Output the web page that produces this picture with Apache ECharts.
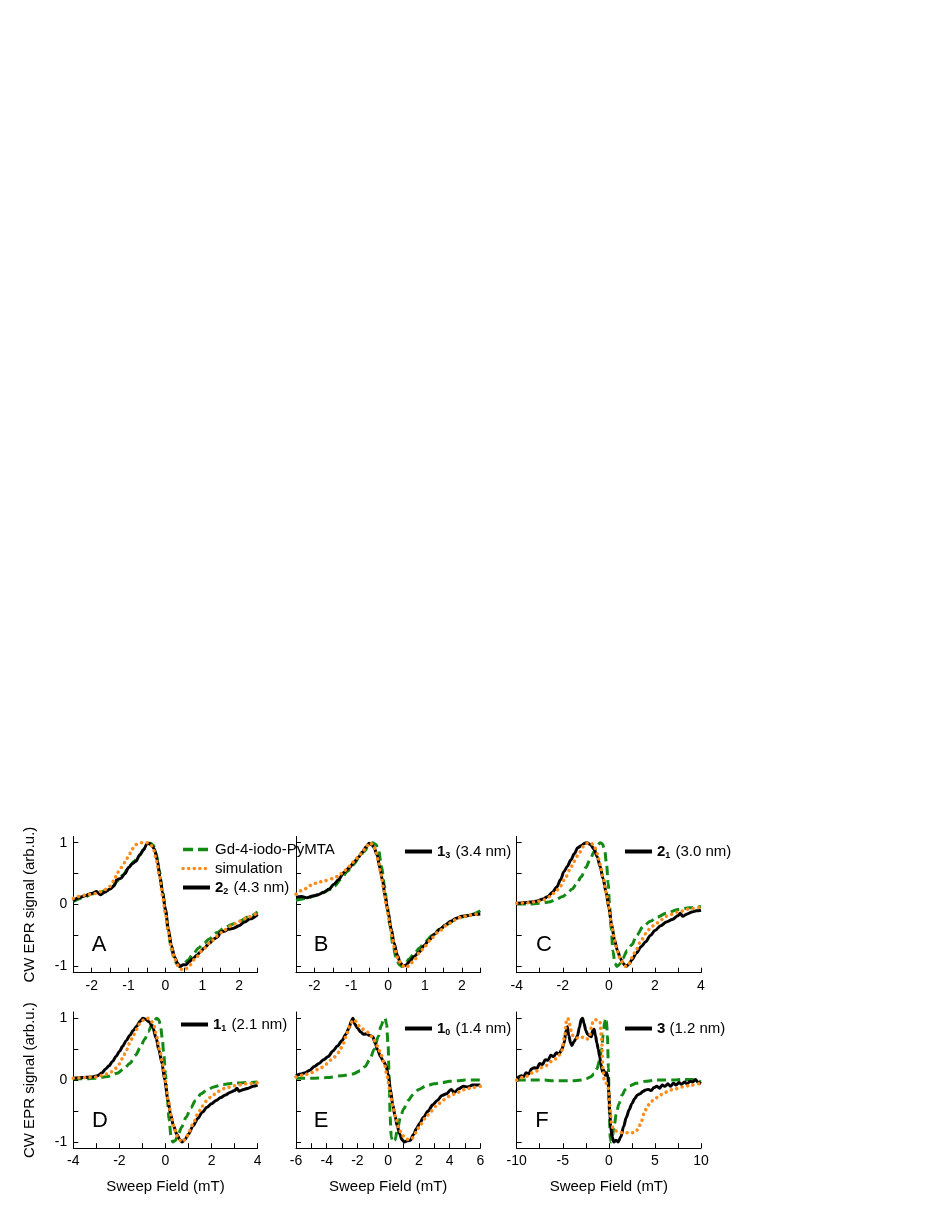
<!DOCTYPE html>
<html>
<head>
<meta charset="utf-8">
<script src="https://cdn.jsdelivr.net/npm/echarts@6/dist/echarts.min.js"></script>
<style>
html,body{margin:0;padding:0;background:#fff;}
#chart{width:932px;height:1206px;}
</style>
</head>
<body>
<div id="chart"></div>
<script>
// ---------------- data ----------------
const A_gd = [[-2.5,0.05],[-2.2,0.12],[-2.0,0.17],[-1.8,0.2],[-1.6,0.23],[-1.45,0.28],[-1.3,0.38],[-1.15,0.48],[-1.0,0.6],[-0.85,0.7],[-0.7,0.8],[-0.58,0.9],[-0.48,0.98],[-0.4,0.99],[-0.32,0.95],[-0.25,0.82],[-0.17,0.55],[-0.08,0.22],[0,-0.1],[0.08,-0.45],[0.16,-0.72],[0.25,-0.9],[0.33,-0.98],[0.4,-1.0],[0.5,-0.96],[0.6,-0.9],[0.75,-0.8],[0.9,-0.7],[1.05,-0.62],[1.2,-0.55],[1.4,-0.45],[1.6,-0.38],[1.8,-0.32],[2.0,-0.27],[2.25,-0.2],[2.5,-0.12]];
const A_sim = [[-2.5,0.1],[-2.2,0.15],[-1.9,0.18],[-1.7,0.22],[-1.55,0.27],[-1.4,0.38],[-1.3,0.52],[-1.2,0.6],[-1.1,0.68],[-1.0,0.78],[-0.9,0.9],[-0.8,0.97],[-0.7,1.0],[-0.6,1.0],[-0.5,1.0],[-0.4,0.97],[-0.32,0.88],[-0.24,0.7],[-0.16,0.45],[-0.08,0.15],[0,-0.15],[0.08,-0.45],[0.16,-0.7],[0.25,-0.88],[0.35,-0.99],[0.45,-1.05],[0.55,-1.04],[0.65,-0.98],[0.8,-0.88],[1.0,-0.74],[1.2,-0.62],[1.4,-0.51],[1.6,-0.41],[1.8,-0.34],[2.0,-0.27],[2.25,-0.2],[2.5,-0.13]];
const A_exp = [[-2.5,0.06],[-2.35,0.11],[-2.2,0.14],[-2.0,0.18],[-1.87,0.21],[-1.77,0.16],[-1.65,0.2],[-1.5,0.25],[-1.4,0.3],[-1.32,0.4],[-1.22,0.42],[-1.1,0.5],[-1.0,0.6],[-0.9,0.66],[-0.8,0.7],[-0.7,0.8],[-0.6,0.88],[-0.5,0.98],[-0.45,0.99],[-0.38,0.96],[-0.3,0.9],[-0.22,0.72],[-0.15,0.45],[-0.08,0.2],[0,-0.08],[0.08,-0.4],[0.16,-0.66],[0.25,-0.85],[0.33,-0.95],[0.4,-1.0],[0.48,-0.97],[0.56,-0.97],[0.65,-0.92],[0.75,-0.87],[0.85,-0.82],[0.95,-0.76],[1.05,-0.7],[1.2,-0.62],[1.32,-0.55],[1.42,-0.52],[1.5,-0.44],[1.6,-0.43],[1.7,-0.4],[1.85,-0.38],[2.0,-0.34],[2.15,-0.28],[2.3,-0.23],[2.5,-0.16]];

const B_gd = [[-2.5,0.07],[-2.2,0.1],[-2.0,0.14],[-1.8,0.18],[-1.6,0.24],[-1.45,0.3],[-1.3,0.4],[-1.1,0.54],[-0.95,0.64],[-0.8,0.75],[-0.65,0.86],[-0.52,0.96],[-0.42,1.0],[-0.33,0.97],[-0.26,0.88],[-0.18,0.62],[-0.1,0.3],[-0.03,0.0],[0.05,-0.35],[0.13,-0.65],[0.22,-0.87],[0.3,-0.97],[0.38,-1.0],[0.46,-0.97],[0.56,-0.88],[0.7,-0.8],[0.85,-0.7],[1.0,-0.6],[1.2,-0.5],[1.4,-0.4],[1.6,-0.32],[1.8,-0.25],[2.0,-0.2],[2.25,-0.16],[2.5,-0.1]];
const B_sim = [[-2.5,0.17],[-2.3,0.24],[-2.1,0.31],[-1.9,0.36],[-1.7,0.39],[-1.5,0.42],[-1.35,0.46],[-1.2,0.54],[-1.05,0.62],[-0.92,0.7],[-0.8,0.78],[-0.68,0.87],[-0.58,0.95],[-0.5,1.0],[-0.42,0.97],[-0.35,0.9],[-0.27,0.72],[-0.2,0.5],[-0.12,0.25],[-0.05,0.0],[0.03,-0.25],[0.1,-0.5],[0.18,-0.72],[0.27,-0.88],[0.37,-0.98],[0.48,-1.02],[0.58,-0.98],[0.7,-0.9],[0.85,-0.78],[1.0,-0.67],[1.2,-0.53],[1.4,-0.42],[1.6,-0.33],[1.8,-0.25],[2.0,-0.2],[2.2,-0.17],[2.5,-0.14]];
const B_exp = [[-2.5,0.12],[-2.35,0.13],[-2.2,0.11],[-2.05,0.14],[-1.9,0.16],[-1.75,0.2],[-1.6,0.25],[-1.47,0.33],[-1.35,0.4],[-1.2,0.52],[-1.05,0.6],[-0.92,0.69],[-0.8,0.77],[-0.7,0.85],[-0.6,0.93],[-0.52,0.99],[-0.45,0.97],[-0.38,0.92],[-0.3,0.8],[-0.22,0.58],[-0.15,0.38],[-0.08,0.12],[0,-0.12],[0.08,-0.38],[0.16,-0.62],[0.25,-0.82],[0.33,-0.94],[0.4,-0.99],[0.48,-0.98],[0.58,-0.92],[0.7,-0.84],[0.85,-0.76],[0.98,-0.66],[1.1,-0.58],[1.25,-0.48],[1.4,-0.4],[1.55,-0.33],[1.7,-0.27],[1.85,-0.22],[2.0,-0.19],[2.15,-0.18],[2.3,-0.16],[2.5,-0.15]];

const C_gd = [[-4,0.01],[-3.5,0.01],[-3.0,0.02],[-2.6,0.04],[-2.3,0.08],[-2.0,0.13],[-1.8,0.18],[-1.6,0.25],[-1.4,0.33],[-1.2,0.45],[-1.0,0.6],[-0.8,0.74],[-0.65,0.85],[-0.5,0.95],[-0.38,1.0],[-0.28,0.98],[-0.18,0.88],[-0.1,0.65],[-0.03,0.35],[0.03,0.0],[0.1,-0.4],[0.18,-0.75],[0.26,-0.95],[0.35,-1.0],[0.45,-0.97],[0.6,-0.87],[0.8,-0.74],[1.0,-0.65],[1.2,-0.5],[1.5,-0.35],[1.8,-0.27],[2.1,-0.2],[2.5,-0.14],[3.0,-0.08],[3.5,-0.05],[4.0,-0.03]];
const C_sim = [[-4,0.02],[-3.5,0.03],[-3.1,0.05],[-2.8,0.08],[-2.55,0.13],[-2.3,0.21],[-2.1,0.3],[-1.9,0.42],[-1.7,0.56],[-1.5,0.7],[-1.3,0.83],[-1.1,0.94],[-0.95,0.99],[-0.8,1.0],[-0.65,0.96],[-0.5,0.82],[-0.38,0.65],[-0.25,0.44],[-0.12,0.2],[0,-0.05],[0.12,-0.33],[0.25,-0.58],[0.38,-0.76],[0.5,-0.88],[0.62,-0.96],[0.75,-1.0],[0.88,-0.95],[1.0,-0.86],[1.2,-0.72],[1.4,-0.58],[1.6,-0.47],[1.8,-0.38],[2.0,-0.32],[2.3,-0.24],[2.6,-0.17],[3.0,-0.12],[3.5,-0.07],[4.0,-0.04]];
const C_exp = [[-4,0.02],[-3.7,0.03],[-3.4,0.04],[-3.1,0.06],[-2.85,0.09],[-2.65,0.13],[-2.45,0.2],[-2.25,0.29],[-2.1,0.4],[-1.95,0.53],[-1.8,0.62],[-1.65,0.72],[-1.5,0.82],[-1.35,0.92],[-1.2,0.95],[-1.05,0.99],[-0.95,1.0],[-0.8,0.97],[-0.65,0.9],[-0.5,0.77],[-0.38,0.62],[-0.25,0.42],[-0.12,0.2],[0,-0.05],[0.12,-0.32],[0.25,-0.58],[0.38,-0.75],[0.5,-0.87],[0.62,-0.95],[0.75,-1.0],[0.88,-0.96],[1.0,-0.89],[1.2,-0.78],[1.4,-0.68],[1.6,-0.6],[1.8,-0.5],[2.0,-0.42],[2.25,-0.34],[2.5,-0.28],[2.75,-0.24],[3.0,-0.18],[3.1,-0.14],[3.2,-0.19],[3.4,-0.15],[3.6,-0.12],[3.8,-0.1],[4.0,-0.09]];

const D_gd = [[-4,0.02],[-3.5,0.02],[-3.0,0.03],[-2.5,0.06],[-2.1,0.11],[-1.8,0.18],[-1.55,0.27],[-1.3,0.4],[-1.1,0.52],[-0.9,0.66],[-0.75,0.78],[-0.6,0.88],[-0.48,0.96],[-0.38,1.0],[-0.3,0.98],[-0.22,0.9],[-0.14,0.68],[-0.07,0.4],[0,0.1],[0.08,-0.3],[0.16,-0.65],[0.24,-0.9],[0.32,-1.0],[0.42,-0.98],[0.55,-0.88],[0.7,-0.76],[0.9,-0.6],[1.1,-0.45],[1.3,-0.33],[1.55,-0.22],[1.8,-0.16],[2.1,-0.11],[2.5,-0.07],[3.0,-0.05],[3.5,-0.04],[4.0,-0.03]];
const D_sim = [[-4,0.03],[-3.5,0.04],[-3.0,0.05],[-2.7,0.08],[-2.4,0.12],[-2.2,0.18],[-2.0,0.26],[-1.85,0.36],[-1.7,0.48],[-1.55,0.6],[-1.4,0.72],[-1.25,0.82],[-1.1,0.92],[-0.95,0.97],[-0.8,1.0],[-0.65,0.98],[-0.5,0.88],[-0.38,0.7],[-0.25,0.48],[-0.12,0.25],[0,-0.02],[0.12,-0.32],[0.25,-0.58],[0.38,-0.77],[0.5,-0.9],[0.62,-0.97],[0.75,-1.0],[0.9,-0.93],[1.05,-0.82],[1.2,-0.7],[1.4,-0.55],[1.6,-0.42],[1.8,-0.33],[2.0,-0.26],[2.3,-0.18],[2.6,-0.13],[3.0,-0.09],[3.5,-0.06],[4.0,-0.04]];
const D_exp = [[-4,0.03],[-3.6,0.04],[-3.2,0.05],[-2.95,0.07],[-2.75,0.12],[-2.6,0.18],[-2.45,0.23],[-2.3,0.3],[-2.15,0.38],[-2.0,0.46],[-1.85,0.55],[-1.7,0.64],[-1.55,0.72],[-1.4,0.8],[-1.25,0.87],[-1.1,0.95],[-0.98,1.0],[-0.85,0.98],[-0.7,0.94],[-0.55,0.85],[-0.4,0.67],[-0.28,0.48],[-0.15,0.27],[-0.03,0.0],[0.1,-0.3],[0.22,-0.55],[0.35,-0.74],[0.5,-0.88],[0.62,-0.96],[0.72,-1.0],[0.85,-0.96],[1.0,-0.87],[1.2,-0.74],[1.4,-0.62],[1.6,-0.52],[1.8,-0.44],[2.0,-0.38],[2.2,-0.33],[2.4,-0.28],[2.6,-0.24],[2.8,-0.2],[3.0,-0.17],[3.1,-0.13],[3.2,-0.18],[3.4,-0.15],[3.6,-0.13],[3.8,-0.1],[4.0,-0.08]];

const E_gd = [[-6,0.03],[-5.0,0.03],[-4.0,0.04],[-3.0,0.07],[-2.3,0.1],[-1.8,0.15],[-1.5,0.22],[-1.2,0.33],[-0.9,0.5],[-0.65,0.7],[-0.45,0.88],[-0.3,0.98],[-0.2,1.0],[-0.1,0.9],[0,0.55],[0.07,0.0],[0.13,-0.6],[0.2,-0.92],[0.3,-1.0],[0.45,-0.97],[0.6,-0.8],[0.8,-0.6],[1.0,-0.47],[1.3,-0.33],[1.6,-0.24],[2.0,-0.15],[2.5,-0.09],[3.0,-0.06],[3.5,-0.04],[4.0,-0.02],[4.5,-0.01],[5.0,0.0],[6.0,0.0]];
const E_sim = [[-6,0.05],[-5.5,0.08],[-5.0,0.12],[-4.5,0.18],[-4.0,0.26],[-3.6,0.35],[-3.2,0.45],[-2.9,0.6],[-2.7,0.74],[-2.5,0.88],[-2.3,0.97],[-2.15,0.96],[-2.0,0.9],[-1.8,0.85],[-1.5,0.8],[-1.25,0.76],[-1.0,0.68],[-0.7,0.55],[-0.45,0.4],[-0.25,0.26],[-0.05,0.05],[0.1,-0.15],[0.3,-0.42],[0.5,-0.62],[0.7,-0.78],[0.9,-0.88],[1.1,-0.94],[1.3,-0.96],[1.55,-0.94],[1.8,-0.85],[2.1,-0.72],[2.4,-0.62],[2.8,-0.5],[3.2,-0.4],[3.6,-0.32],[4.0,-0.26],[4.5,-0.2],[5.0,-0.15],[5.5,-0.12],[6.0,-0.1]];
const E_exp = [[-6,0.07],[-5.7,0.1],[-5.4,0.12],[-5.1,0.16],[-4.8,0.22],[-4.5,0.27],[-4.2,0.33],[-3.9,0.38],[-3.6,0.47],[-3.3,0.55],[-3.0,0.64],[-2.75,0.74],[-2.55,0.84],[-2.4,0.95],[-2.3,1.0],[-2.15,0.9],[-2.0,0.84],[-1.8,0.78],[-1.6,0.74],[-1.4,0.75],[-1.2,0.72],[-1.0,0.7],[-0.85,0.6],[-0.7,0.5],[-0.5,0.38],[-0.3,0.3],[-0.15,0.24],[0,0.1],[0.15,-0.15],[0.3,-0.4],[0.45,-0.58],[0.6,-0.75],[0.75,-0.87],[0.9,-0.96],[1.05,-1.0],[1.25,-0.98],[1.45,-0.97],[1.65,-0.88],[1.85,-0.78],[2.05,-0.7],[2.3,-0.6],[2.6,-0.5],[2.9,-0.4],[3.2,-0.33],[3.5,-0.25],[3.8,-0.22],[4.1,-0.15],[4.3,-0.2],[4.6,-0.14],[4.9,-0.1],[5.2,-0.11],[5.5,-0.08],[6.0,-0.08]];

const F_gd = [[-10,0.0],[-9,0.0],[-8,0.0],[-7,0.0],[-6,-0.01],[-5,-0.01],[-4,-0.01],[-3,0.0],[-2.5,0.02],[-2.0,0.05],[-1.6,0.1],[-1.3,0.18],[-1.0,0.32],[-0.8,0.5],[-0.6,0.75],[-0.45,0.95],[-0.35,1.0],[-0.25,0.95],[-0.15,0.7],[-0.05,0.2],[0.05,-0.5],[0.15,-0.95],[0.25,-1.0],[0.4,-0.9],[0.6,-0.72],[0.8,-0.55],[1.1,-0.38],[1.4,-0.25],[1.8,-0.15],[2.3,-0.09],[3.0,-0.05],[4.0,-0.02],[5,0.0],[6,0.0],[7,0.0],[8,0.01],[9,0.01],[10,-0.03]];
const F_sim = [[-10,0.0],[-9,0.06],[-8,0.14],[-7,0.22],[-6,0.32],[-5.5,0.38],[-5.1,0.48],[-4.8,0.7],[-4.6,0.95],[-4.45,1.0],[-4.3,0.92],[-4.1,0.8],[-3.9,0.72],[-3.6,0.68],[-3.3,0.68],[-3.0,0.7],[-2.7,0.68],[-2.4,0.66],[-2.1,0.7],[-1.9,0.85],[-1.7,0.95],[-1.5,0.98],[-1.3,0.97],[-1.1,0.95],[-0.95,0.94],[-0.8,0.7],[-0.65,0.2],[-0.5,0.0],[-0.3,-0.05],[-0.1,-0.08],[0,-0.2],[0.15,-0.5],[0.3,-0.72],[0.5,-0.8],[0.75,-0.82],[1.0,-0.84],[1.5,-0.85],[2.0,-0.85],[2.5,-0.85],[2.9,-0.84],[3.2,-0.78],[3.5,-0.68],[3.8,-0.55],[4.1,-0.45],[4.5,-0.36],[5.0,-0.3],[5.5,-0.25],[6.0,-0.2],[7.0,-0.15],[8.0,-0.11],[9.0,-0.08],[10,-0.05]];
const F_exp = [[-10,-0.02],[-9.8,0.05],[-9.5,0.07],[-9.2,0.06],[-9.0,0.12],[-8.7,0.1],[-8.4,0.18],[-8.1,0.2],[-7.8,0.19],[-7.5,0.27],[-7.2,0.25],[-6.9,0.33],[-6.6,0.32],[-6.3,0.4],[-6.0,0.38],[-5.7,0.44],[-5.4,0.42],[-5.1,0.5],[-4.85,0.6],[-4.65,0.8],[-4.5,0.86],[-4.35,0.72],[-4.15,0.6],[-4.0,0.56],[-3.8,0.62],[-3.6,0.66],[-3.4,0.72],[-3.2,0.85],[-3.0,0.98],[-2.85,1.0],[-2.7,0.92],[-2.5,0.8],[-2.3,0.74],[-2.1,0.72],[-1.9,0.7],[-1.75,0.8],[-1.6,0.82],[-1.45,0.72],[-1.3,0.6],[-1.15,0.5],[-1.0,0.38],[-0.85,0.25],[-0.7,0.14],[-0.55,0.16],[-0.4,0.08],[-0.25,0.12],[-0.1,0.05],[0,-0.2],[0.1,-0.5],[0.2,-0.75],[0.35,-0.92],[0.55,-1.0],[0.75,-0.97],[1.0,-1.0],[1.3,-0.92],[1.6,-0.75],[1.9,-0.6],[2.2,-0.48],[2.5,-0.38],[2.8,-0.3],[3.1,-0.24],[3.4,-0.22],[3.7,-0.18],[4.0,-0.16],[4.3,-0.15],[4.6,-0.17],[4.9,-0.12],[5.2,-0.1],[5.5,-0.13],[5.8,-0.08],[6.1,-0.1],[6.4,-0.06],[6.7,-0.1],[7.0,-0.05],[7.3,-0.08],[7.6,-0.04],[7.9,-0.07],[8.2,-0.03],[8.5,-0.06],[8.8,-0.02],[9.1,-0.03],[9.4,0.01],[9.7,-0.04],[10,-0.06]];

// tick labels / tick positions
const yLabels = [-1, 0, 1];
const yTicks = [-1, -0.5, 0, 0.5, 1];
const xLabelsAB = [-2, -1, 0, 1, 2];
const xTicksAB = [-2.5, -2, -1.5, -1, -0.5, 0, 0.5, 1, 1.5, 2, 2.5];
const xLabelsCD = [-4, -2, 0, 2, 4];
const xTicksCD = [-4, -3, -2, -1, 0, 1, 2, 3, 4];
const xLabelsE = [-6, -4, -2, 0, 2, 4, 6];
const xTicksE = [-6, -5, -4, -3, -2, -1, 0, 1, 2, 3, 4, 5, 6];
const xLabelsF = [-10, -5, 0, 5, 10];
const xTicksF = [-10, -7.5, -5, -2.5, 0, 2.5, 5, 7.5, 10];

const panelLetters = ['A', 'B', 'C', 'D', 'E', 'F'];
const gdName = 'Gd-4-iodo-PyMTA';
const simName = 'simulation';
const expNames = ['2_2 (4.3 nm)', '1_3 (3.4 nm)', '2_1 (3.0 nm)', '1_1 (2.1 nm)', '1_0 (1.4 nm)', '3 (1.2 nm)'];
const yName = 'CW EPR signal (arb.u.)';
const xName = 'Sweep Field (mT)';

// ---------------- layout ----------------
const FONT = '"Liberation Sans", Arial, Helvetica, sans-serif';
const GREEN = '#138a13', ORANGE = '#ff8c1a', BLACK = '#000';
const colLeft = [73.3, 296, 516.7];
const colWidth = 184.3;
const rowTop = [836.5, 1012];
const rowHeight = 136.2;

const panels = [
  {gd: A_gd, sim: A_sim, exp: A_exp, xMin: -2.5, xMax: 2.5, labels: xLabelsAB, ticks: xTicksAB},
  {gd: B_gd, sim: B_sim, exp: B_exp, xMin: -2.5, xMax: 2.5, labels: xLabelsAB, ticks: xTicksAB},
  {gd: C_gd, sim: C_sim, exp: C_exp, xMin: -4, xMax: 4, labels: xLabelsCD, ticks: xTicksCD},
  {gd: D_gd, sim: D_sim, exp: D_exp, xMin: -4, xMax: 4, labels: xLabelsCD, ticks: xTicksCD},
  {gd: E_gd, sim: E_sim, exp: E_exp, xMin: -6, xMax: 6, labels: xLabelsE, ticks: xTicksE},
  {gd: F_gd, sim: F_sim, exp: F_exp, xMin: -10, xMax: 10, labels: xLabelsF, ticks: xTicksF}
];
const letterPos = [[99, 945], [321, 945], [544, 945], [100, 1120.5], [321, 1120.5], [542, 1120.5]];
const legendPos = [[181, 842], [403, 844], [623, 844], [179, 1017], [403, 1021], [623, 1021]];

const grids = [], xAxes = [], yAxes = [], series = [], legends = [], graphics = [];

const axisLineStyle = {color: '#000', width: 1};
const hiddenSymbol = {opacity: 0, borderWidth: 0};
panels.forEach((p, i) => {
  const row = Math.floor(i / 3), col = i % 3;
  grids.push({left: colLeft[col], top: rowTop[row], width: colWidth, height: rowHeight, containLabel: false});
  xAxes.push({
    type: 'value', gridIndex: i, min: p.xMin, max: p.xMax,
    axisLine: {show: true, onZero: false, lineStyle: axisLineStyle},
    axisTick: {show: true, inside: true, length: 5, customValues: p.ticks, lineStyle: axisLineStyle},
    axisLabel: {show: true, margin: 6, customValues: p.labels, color: '#000', fontSize: 14, fontFamily: FONT,
      formatter: v => String(v)},
    splitLine: {show: false},
    name: row === 1 ? xName : '', nameLocation: 'middle', nameGap: 31,
    nameTextStyle: {fontSize: 15, color: '#000', fontFamily: FONT}
  });
  yAxes.push({
    type: 'value', gridIndex: i, min: -1.1, max: 1.1,
    axisLine: {show: true, onZero: false, lineStyle: axisLineStyle},
    axisTick: {show: true, inside: true, length: 5, customValues: yTicks, lineStyle: axisLineStyle},
    axisLabel: {show: col === 0, margin: 6, customValues: yLabels, color: '#000', fontSize: 14, fontFamily: FONT,
      formatter: v => String(v)},
    splitLine: {show: false},
    name: col === 0 ? yName : '', nameLocation: 'middle', nameGap: 36, nameRotate: 90,
    nameTextStyle: {fontSize: 15, color: '#000', fontFamily: FONT}
  });
  const common = {type: 'line', xAxisIndex: i, yAxisIndex: i, symbol: 'none', showSymbol: false,
    smooth: 0.3, smoothMonotone: 'x', silent: true, animation: false};
  series.push(Object.assign({}, common, {name: gdName, data: p.gd, z: 2,
    lineStyle: {color: GREEN, width: 3, type: [9, 5]}, itemStyle: {color: GREEN}}));
  series.push(Object.assign({}, common, {name: expNames[i], data: p.exp, z: 3,
    lineStyle: {color: BLACK, width: 3}, itemStyle: {color: BLACK}}));
  series.push(Object.assign({}, common, {name: simName, data: p.sim, z: 4,
    lineStyle: {color: ORANGE, width: 3.5, type: [0.1, 5.5], cap: 'round'}, itemStyle: {color: ORANGE}}));

  const legData = [];
  if (i === 0) {
    legData.push({name: gdName, itemStyle: hiddenSymbol, lineStyle: {color: GREEN, width: 3.5, type: [10, 5]}});
    legData.push({name: simName, itemStyle: hiddenSymbol, lineStyle: {color: ORANGE, width: 3.5, type: [0.1, 5.5], cap: 'round'}});
  }
  legData.push({name: expNames[i], itemStyle: hiddenSymbol, lineStyle: {color: BLACK, width: 4, type: 'solid'}});
  legends.push({
    show: true, orient: 'vertical', left: legendPos[i][0], top: legendPos[i][1], padding: 0,
    itemWidth: 27, itemHeight: 14, itemGap: 4, selectedMode: false,
    data: legData,
    textStyle: {fontSize: 15, color: '#000', fontFamily: FONT,
      rich: {
        b: {fontSize: 15, fontWeight: 'bold', color: '#000', fontFamily: FONT},
        s: {fontSize: 9, fontWeight: 'bold', color: '#000', fontFamily: FONT, padding: [9, 1, 0, 0]},
        n: {fontSize: 15, color: '#000', fontFamily: FONT}
      }},
    formatter: function (name) {
      let m = name.match(/^(\d)_(\d) (.*)$/);
      if (m) return '{b|' + m[1] + '}{s|' + m[2] + '}{n| ' + m[3] + '}';
      m = name.match(/^(\d) (.*)$/);
      if (m) return '{b|' + m[1] + '}{n| ' + m[2] + '}';
      return name;
    }
  });
  graphics.push({type: 'text', x: letterPos[i][0], y: letterPos[i][1], silent: true,
    style: {text: panelLetters[i], fill: '#000', font: '22px ' + FONT,
      align: 'center', verticalAlign: 'middle', textAlign: 'center', textVerticalAlign: 'middle'}});
});

const chart = echarts.init(document.getElementById('chart'), null, {renderer: 'canvas'});
chart.setOption({
  backgroundColor: '#fff',
  animation: false,
  grid: grids, xAxis: xAxes, yAxis: yAxes, series: series, legend: legends, graphic: graphics
});
</script>
</body>
</html>
